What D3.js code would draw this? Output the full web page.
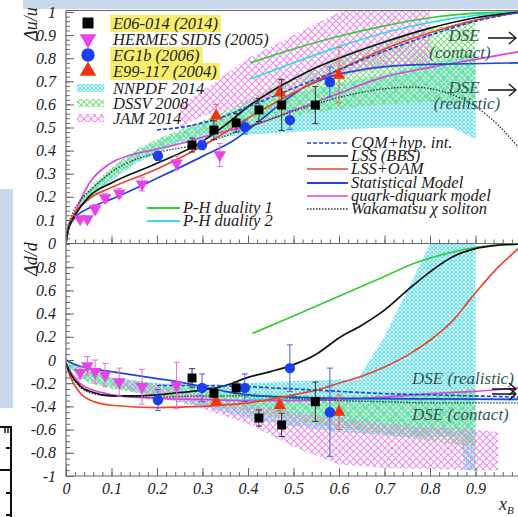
<!DOCTYPE html>
<html><head><meta charset="utf-8">
<script src="https://cdn.jsdelivr.net/npm/d3@7"></script>
<style>
body{margin:0;background:#fff;}
svg{display:block;}
text{font-family:"Liberation Serif","Times New Roman",serif;font-style:italic;fill:#222;}
</style>
</head><body>
<svg id="c" width="518" height="517"></svg>
<script>
// ---------- tick values / labels ----------
const xTickVals = [0,0.1,0.2,0.3,0.4,0.5,0.6,0.7,0.8,0.9];
const xTickLabels = ["0","0.1","0.2","0.3","0.4","0.5","0.6","0.7","0.8","0.9"];
const uTickVals = [0,0.1,0.2,0.3,0.4,0.5,0.6,0.7,0.8,0.9,1];
const uTickLabels = ["0","0.1","0.2","0.3","0.4","0.5","0.6","0.7","0.8","0.9","1"];
const dTickVals = [-1,-0.8,-0.6,-0.4,-0.2,0,0.2,0.4,0.6,0.8];
const dTickLabels = ["-1","-0.8","-0.6","-0.4","-0.2","0","0.2","0.4","0.6","0.8"];

// ---------- measurements ----------
const e06X = [0.277,0.325,0.374,0.424,0.474,0.548];
const e06U = [0.424,0.489,0.52,0.576,0.597,0.597];
const e06UErr = [0.03,0.04,0.04,0.05,0.11,0.08];
const e06D = [-0.155,-0.284,-0.24,-0.5,-0.56,-0.36];
const e06DErr = [0.08,0.04,0.05,0.07,0.1,0.17];

const hermesUX = [0.031,0.047,0.064,0.086,0.117,0.167,0.243,0.338];
const hermesU = [0.104,0.104,0.147,0.195,0.216,0.255,0.346,0.381];
const hermesUErr = [0.01,0.01,0.02,0.02,0.02,0.03,0.03,0.05];
const hermesDX = [0.031,0.047,0.064,0.086,0.117,0.167,0.243];
const hermesD = [-0.11,-0.05,-0.1,-0.13,-0.19,-0.23,-0.22];
const hermesDErr = [0.05,0.08,0.1,0.1,0.12,0.15,0.2];

const eg1bX = [0.202,0.299,0.393,0.492,0.58];
const eg1bU = [0.377,0.424,0.502,0.532,0.697];
const eg1bUErr = [0.02,0.02,0.03,0.04,0.065];
const eg1bD = [-0.345,-0.24,-0.24,-0.07,-0.45];
const eg1bDErr = [0.09,0.12,0.12,0.2,0.38];

const e99X = [0.33,0.47,0.6];
const e99U = [0.55,0.65,0.727];
const e99UErr = [0.05,0.06,0.12];
const e99D = [-0.36,-0.39,-0.45];
const e99DErr = [0.03,0.05,0.15];

// ---------- model curves, Δu/u ----------
const bbsUX = [0,0.005,0.02,0.05,0.1,0.2,0.3,0.35,0.4,0.45,0.5,0.55,0.6,0.7,0.8,0.9,1.0];
const bbsU  = [0,0.06,0.12,0.2,0.26,0.345,0.44,0.51,0.59,0.655,0.71,0.76,0.8,0.87,0.93,0.975,1.0];
const oamUX = [0,0.005,0.02,0.05,0.1,0.2,0.3,0.4,0.5,0.6,0.7,0.8,0.9,1.0];
const oamU  = [0,0.07,0.13,0.19,0.24,0.32,0.42,0.54,0.65,0.75,0.84,0.91,0.965,1.0];
const statUX = [0,0.005,0.02,0.05,0.1,0.2,0.3,0.37,0.42,0.47,0.52,0.58,0.65,0.75,0.85,1.0];
const statU  = [0,0.06,0.11,0.15,0.19,0.28,0.375,0.446,0.52,0.6,0.67,0.72,0.75,0.77,0.775,0.78];
const cqmUX = [0.2,0.25,0.3,0.35,0.4,0.5,0.6,0.7,0.8,0.9,1.0];
const cqmU  = [0.49,0.5,0.52,0.55,0.59,0.67,0.75,0.83,0.9,0.96,1.0];
const qdqUX = [0,0.005,0.012,0.024,0.04,0.059,0.08,0.112,0.15,0.185,0.257,0.332,0.411,0.5,0.6,0.69,0.8,0.9,1.0];
const qdqU  = [0,0.06,0.1,0.15,0.22,0.28,0.32,0.36,0.385,0.40,0.433,0.476,0.51,0.575,0.648,0.714,0.76,0.795,0.83];
const wakUX = [0,0.005,0.015,0.03,0.06,0.11,0.2,0.3,0.4,0.5,0.6,0.69,0.76,0.83,0.9,0.95,1.0];
const wakU  = [0,0.07,0.13,0.18,0.24,0.32,0.39,0.43,0.5,0.57,0.63,0.665,0.675,0.655,0.59,0.51,0.4];
const ph1UX = [0.405,0.5,0.6,0.7,0.8,0.9,1.0];
const ph1U  = [0.78,0.84,0.895,0.94,0.975,0.995,1.0];
const ph2UX = [0.405,0.5,0.6,0.7,0.8,0.9,1.0];
const ph2U  = [0.71,0.78,0.85,0.91,0.955,0.985,1.0];

// ---------- model curves, Δd/d ----------
const bbsDX = [0,0.01,0.03,0.06,0.1,0.15,0.2,0.25,0.3,0.35,0.4,0.45,0.5,0.55,0.6,0.65,0.7,0.75,0.8,0.85,0.9,0.95,1.0];
const bbsD  = [-0.03,-0.12,-0.22,-0.28,-0.31,-0.31,-0.3,-0.28,-0.26,-0.22,-0.15,-0.1,-0.04,0.05,0.19,0.3,0.43,0.6,0.76,0.89,0.96,0.99,1.0];
const oamDX = [0,0.01,0.03,0.05,0.1,0.2,0.3,0.4,0.5,0.55,0.6,0.65,0.7,0.75,0.8,0.85,0.9,0.95,1.0];
const oamD  = [-0.03,-0.15,-0.28,-0.34,-0.39,-0.41,-0.4,-0.37,-0.3,-0.26,-0.2,-0.14,-0.06,0.04,0.17,0.34,0.58,0.8,0.98];
const statDX = [0,0.02,0.05,0.1,0.15,0.2,0.25,0.3,0.35,0.4,0.5,0.6,0.8,1.0];
const statD  = [0,-0.04,-0.07,-0.1,-0.13,-0.16,-0.19,-0.23,-0.27,-0.3,-0.32,-0.33,-0.335,-0.34];
const cqmDX = [0.2,0.3,0.4,0.5,0.6,0.7,0.8,0.9,1.0];
const cqmD  = [-0.22,-0.22,-0.23,-0.25,-0.27,-0.29,-0.3,-0.31,-0.32];
const qdqDX = [0,0.01,0.03,0.06,0.1,0.15,0.2,0.3,0.4,0.5,0.6,0.7,0.8,0.9,1.0];
const qdqD  = [-0.03,-0.1,-0.2,-0.26,-0.3,-0.32,-0.33,-0.34,-0.35,-0.35,-0.34,-0.32,-0.29,-0.27,-0.24];
const wakDX = [0,0.01,0.03,0.06,0.1,0.2,0.3,0.4,0.5,0.6,0.7,0.8,0.9,1.0];
const wakD  = [-0.02,-0.12,-0.23,-0.29,-0.31,-0.32,-0.31,-0.31,-0.33,-0.35,-0.36,-0.37,-0.37,-0.37];
const ph1DX = [0.41,0.5,0.6,0.7,0.77,0.85,0.9,0.95,1.0];
const ph1D  = [0.23,0.38,0.55,0.72,0.84,0.93,0.97,0.99,1.0];
const ph2DX = [0.4,0.6,0.8,1.0];
const ph2D  = [-0.34,-0.34,-0.34,-0.34];

// ---------- global fits (uncertainty bands) ----------
const nnUX = [0.03,0.05,0.1,0.15,0.2,0.25,0.3,0.35,0.4,0.5,0.6,0.7,0.8,0.85,0.9];
const nnULo = [0.15,0.18,0.27,0.34,0.39,0.43,0.45,0.46,0.47,0.48,0.49,0.5,0.5,0.5,0.45];
const nnUHi = [0.19,0.23,0.32,0.39,0.44,0.48,0.52,0.56,0.6,0.65,0.69,0.73,0.78,0.8,0.82];
const dsUX = [0.03,0.05,0.1,0.15,0.2,0.25,0.3,0.4,0.5,0.6,0.7,0.8,0.9];
const dsULo = [0.15,0.19,0.28,0.35,0.4,0.44,0.47,0.51,0.55,0.58,0.6,0.61,0.6];
const dsUHi = [0.19,0.24,0.33,0.4,0.45,0.49,0.53,0.62,0.72,0.81,0.88,0.93,0.96];
const jmUX = [0.25,0.3,0.4,0.5,0.6,0.7,0.8];
const jmULo = [0.5,0.55,0.6,0.66,0.72,0.76,0.78];
const jmUHi = [0.6,0.66,0.8,0.9,1.0,1.05,1.05];

const nnDX = [0,0.05,0.1,0.2,0.3,0.4,0.5,0.6,0.64,0.7,0.75,0.8,0.87,0.875,0.9];
const nnDLo = [-0.06,-0.18,-0.24,-0.32,-0.4,-0.5,-0.57,-0.62,-0.63,-0.65,-0.66,-0.66,-0.66,-0.95,-0.95];
const nnDHi = [-0.02,-0.1,-0.15,-0.2,-0.22,-0.2,-0.18,-0.17,-0.17,0.2,0.6,1.0,1.0,1.0,1.0];
const dsDX = [0,0.05,0.1,0.2,0.3,0.4,0.5,0.6,0.7,0.8,0.9];
const dsDLo = [-0.05,-0.2,-0.25,-0.3,-0.38,-0.45,-0.52,-0.58,-0.64,-0.7,-0.75];
const dsDHi = [-0.02,-0.1,-0.15,-0.2,-0.25,-0.28,-0.3,-0.31,-0.3,-0.28,-0.25];
const jmDX = [0.1,0.2,0.3,0.4,0.5,0.6,0.7,0.8,0.9,0.95];
const jmDLo = [-0.22,-0.32,-0.42,-0.55,-0.75,-0.9,-0.93,-0.94,-0.95,-0.95];
const jmDHi = [-0.15,-0.22,-0.3,-0.38,-0.45,-0.5,-0.55,-0.58,-0.6,-0.62];

// ---------- legend entries ----------
const dataLegend = ["E06-014 (2014)","HERMES SIDIS (2005)","EG1b (2006)","E99-117 (2004)"];
const bandLegend = ["NNPDF 2014","DSSV 2008","JAM 2014"];
const modelLegend = ["CQM+hyp. int.","LSS (BBS)","LSS+OAM","Statistical Model","quark-diquark model","Wakamatsu \u03c7 soliton"];
const dualityLegend = ["P-H duality 1","P-H duality 2"];

// ---------- styles ----------
const C = {green:"#33cc33", cyan:"#33dde6", black:"#111", red:"#e8472a", blue:"#2246dd", magenta:"#dd44dd", dotted:"#333"};
const frameColor = "#666";

// ---------- scales ----------
const x = d3.scaleLinear().domain([0,1]).range([66,521]);
const yU = d3.scaleLinear().domain([0,1]).range([243,12]);
const yD = d3.scaleLinear().domain([-1,1]).range([476,244]);

const svg = d3.select("#c");
const defs = svg.append("defs");

// page decoration strips
svg.append("rect").attr("x",23).attr("y",0).attr("width",495).attr("height",9).attr("fill","#c7d8ec");
svg.append("rect").attr("x",0).attr("y",189).attr("width",13).attr("height",219).attr("fill","#c7d8ec");
const ruler = svg.append("g").attr("stroke","#111").attr("stroke-width",2).attr("fill","none");
ruler.append("path").attr("d","M0,427H11V517");
[448,470,493,515].forEach(t=>ruler.append("line").attr("x1",t===470?0:6).attr("x2",11).attr("y1",t).attr("y2",t));
[5,8].forEach(t=>ruler.append("line").attr("x1",t).attr("x2",t).attr("y1",427).attr("y2",433).attr("stroke-width",1.5));

// hatch patterns
function hatch(id, size, color){
  const p = defs.append("pattern").attr("id",id).attr("width",size).attr("height",size)
    .attr("patternUnits","userSpaceOnUse");
  p.append("path").attr("d",`M0,0L${size},${size}M${size},0L0,${size}`)
    .attr("stroke",color).attr("stroke-width",1.1).attr("fill","none");
}
hatch("hNN",4,"#55dfea");
hatch("hDS",6,"#77e077");
hatch("hJM",7,"#ee88ee");

defs.append("clipPath").attr("id","clipU").append("rect").attr("x",66).attr("y",11).attr("width",452).attr("height",232);
defs.append("clipPath").attr("id","clipD").append("rect").attr("x",66).attr("y",244).attr("width",452).attr("height",232);

const zip = (xs, ys) => xs.map((v,i)=>[v, ys[i]]);
const zip3 = (xs, lo, hi) => xs.map((v,i)=>[v, lo[i], hi[i]]);

function panel(clipId, y, bands, curves){
  const g = svg.append("g").attr("clip-path",`url(#${clipId})`);
  const area = d3.area().x(d=>x(d[0])).y0(d=>y(d[1])).y1(d=>y(d[2]));
  bands.forEach(b=>g.append("path").datum(b.data).attr("d",area).attr("fill",`url(#${b.pat})`));
  const line = d3.line().x(d=>x(d[0])).y(d=>y(d[1])).curve(d3.curveMonotoneX);
  curves.forEach(c=>g.append("path").datum(c.data).attr("d",line).attr("fill","none")
    .attr("stroke",c.color).attr("stroke-width",c.w||1.7).attr("stroke-dasharray",c.dash||null));
  return g;
}

panel("clipU", yU, [
  {data:zip3(nnUX,nnULo,nnUHi), pat:"hNN"},
  {data:zip3(dsUX,dsULo,dsUHi), pat:"hDS"},
  {data:zip3(jmUX,jmULo,jmUHi), pat:"hJM"}
],[
  {data:zip(ph1UX,ph1U), color:C.green},
  {data:zip(ph2UX,ph2U), color:C.cyan},
  {data:zip(qdqUX,qdqU), color:C.magenta},
  {data:zip(statUX,statU), color:C.blue},
  {data:zip(wakUX,wakU), color:C.dotted, dash:"1.5,1.5", w:1.3},
  {data:zip(oamUX,oamU), color:C.red},
  {data:zip(bbsUX,bbsU), color:C.black},
  {data:zip(cqmUX,cqmU), color:C.blue, dash:"4,2"}
]);

panel("clipD", yD, [
  {data:zip3(nnDX,nnDLo,nnDHi), pat:"hNN"},
  {data:zip3(dsDX,dsDLo,dsDHi), pat:"hDS"},
  {data:zip3(jmDX,jmDLo,jmDHi), pat:"hJM"}
],[
  {data:zip(ph1DX,ph1D), color:C.green},
  {data:zip(ph2DX,ph2D), color:C.cyan},
  {data:zip(qdqDX,qdqD), color:C.magenta},
  {data:zip(wakDX,wakD), color:C.dotted, dash:"1.5,1.5", w:1.3},
  {data:zip(statDX,statD), color:C.blue},
  {data:zip(oamDX,oamD), color:C.red},
  {data:zip(bbsDX,bbsD), color:C.black},
  {data:zip(cqmDX,cqmD), color:C.blue, dash:"4,2"}
]);

// ---------- markers ----------
const sym = {
  square: d3.symbol().type(d3.symbolSquare).size(80),
  circle: d3.symbol().type(d3.symbolCircle).size(85),
  tri: d3.symbol().type(d3.symbolTriangle).size(70)
};
function points(y, xs, vs, errs, shape, color, errColor, flip){
  const g = svg.append("g");
  xs.forEach((xv,i)=>{
    const px = x(xv), py = y(vs[i]), e1 = y(vs[i]+errs[i]), e2 = y(vs[i]-errs[i]);
    g.append("line").attr("x1",px).attr("x2",px).attr("y1",e1).attr("y2",e2).attr("stroke",errColor).attr("stroke-width",1);
    [e1,e2].forEach(ey=>g.append("line").attr("x1",px-3).attr("x2",px+3).attr("y1",ey).attr("y2",ey).attr("stroke",errColor).attr("stroke-width",1));
    g.append("path").attr("d",sym[shape]()).attr("fill",color)
      .attr("transform",`translate(${px},${py})${flip?" rotate(180)":""}`);
  });
}
points(yU, hermesUX, hermesU, hermesUErr, "tri", "#e644e6", "#e070e0", true);
points(yU, e99X, e99U, e99UErr, "tri", "#ee3311", "#e06a50", false);
points(yU, eg1bX, eg1bU, eg1bUErr, "circle", "#1a3ff0", "#4460e0", false);
points(yU, e06X, e06U, e06UErr, "square", "#000", "#333", false);

points(yD, hermesDX, hermesD, hermesDErr, "tri", "#e644e6", "#e070e0", true);
points(yD, e99X, e99D, e99DErr, "tri", "#ee3311", "#e06a50", false);
points(yD, eg1bX, eg1bD, eg1bDErr, "circle", "#1a3ff0", "#4460e0", false);
points(yD, e06X, e06D, e06DErr, "square", "#000", "#333", false);

// ---------- axes ----------
const fmt = (vals, labels) => d => labels[vals.findIndex(v=>Math.abs(v-d)<1e-9)] ?? "";
function styleAxis(g){
  g.select(".domain").remove();
  g.selectAll("line").attr("stroke",frameColor);
  g.selectAll("text").attr("font-family","Liberation Serif, serif").attr("font-style","italic")
    .attr("font-size",16).attr("fill","#333");
}
const minorU = d3.range(0,1.0001,0.02);
const minorD = d3.range(-1,1.0001,0.05);
const minorX = d3.range(0,1.0001,0.02);

svg.append("g").attr("transform","translate(66,0)")
  .call(d3.axisLeft(yU).tickValues(minorU).tickFormat("").tickSizeInner(-4).tickSizeOuter(0)).call(styleAxis);
svg.append("g").attr("transform","translate(66,0)")
  .call(d3.axisLeft(yU).tickValues(uTickVals).tickFormat(fmt(uTickVals,uTickLabels)).tickSizeInner(-8).tickSizeOuter(0).tickPadding(10)).call(styleAxis);
svg.append("g").attr("transform","translate(66,0)")
  .call(d3.axisLeft(yD).tickValues(minorD).tickFormat("").tickSizeInner(-4).tickSizeOuter(0)).call(styleAxis);
svg.append("g").attr("transform","translate(66,0)")
  .call(d3.axisLeft(yD).tickValues(dTickVals).tickFormat(fmt(dTickVals,dTickLabels)).tickSizeInner(-8).tickSizeOuter(0).tickPadding(10)).call(styleAxis);

svg.append("g").attr("transform","translate(0,476)")
  .call(d3.axisBottom(x).tickValues(minorX).tickFormat("").tickSizeInner(-4).tickSizeOuter(0)).call(styleAxis);
svg.append("g").attr("transform","translate(0,476)")
  .call(d3.axisBottom(x).tickValues(xTickVals).tickFormat(fmt(xTickVals,xTickLabels)).tickSizeInner(-8).tickSizeOuter(0).tickPadding(7)).call(styleAxis);
svg.append("g").attr("transform","translate(0,243.5)")
  .call(d3.axisBottom(x).tickValues(minorX).tickFormat("").tickSizeInner(-4).tickSizeOuter(0)).call(styleAxis);
svg.append("g").attr("transform","translate(0,243.5)")
  .call(d3.axisBottom(x).tickValues(xTickVals).tickFormat("").tickSizeInner(-8).tickSizeOuter(0)).call(styleAxis);

// frame
const frame = svg.append("g").attr("stroke",frameColor).attr("stroke-width",1.2);
frame.append("line").attr("x1",66).attr("x2",66).attr("y1",10.5).attr("y2",476);
frame.append("line").attr("x1",66).attr("x2",518).attr("y1",476).attr("y2",476);
frame.append("line").attr("x1",66).attr("x2",518).attr("y1",243.5).attr("y2",243.5);
frame.append("line").attr("x1",66).attr("x2",518).attr("y1",10.5).attr("y2",10.5);

// axis titles
svg.append("text").attr("transform","translate(37,24) rotate(-90)").attr("text-anchor","middle")
  .attr("font-size",18).text("\u0394u/u");
svg.append("text").attr("transform","translate(37,259) rotate(-90)").attr("text-anchor","middle")
  .attr("font-size",18).text("\u0394d/d");
const xl = svg.append("text").attr("x",499).attr("y",510).attr("font-size",18);
xl.append("tspan").text("x");
xl.append("tspan").attr("font-size",11).attr("dy",4).text("B");

// ---------- legends ----------
const legY = [23,39,55,71];
const highlighted = [true,false,true,true];
const legShapes = [["square","#000",false],["tri","#e644e6",true],["circle","#1a3ff0",false],["tri","#ee3311",false]];
const hlLayer = svg.append("g");
dataLegend.forEach((t,i)=>{
  const s = legShapes[i];
  svg.append("path").attr("d",d3.symbol().type(s[0]==="square"?d3.symbolSquare:s[0]==="circle"?d3.symbolCircle:d3.symbolTriangle).size(s[0]==="circle"?140:120)())
    .attr("fill",s[1]).attr("transform",`translate(88,${legY[i]})${s[2]?" rotate(180)":""}`);
  const tx = svg.append("text").attr("x",113).attr("y",legY[i]+6).attr("font-size",16.5).text(t);
  if(highlighted[i]){
    const w = tx.node().getComputedTextLength();
    hlLayer.append("rect").attr("x",110).attr("y",legY[i]-8).attr("width",w+6).attr("height",17).attr("fill","#f8ee6c");
  }
});
const bandY = [88,103,118];
const bandPats = ["hNN","hDS","hJM"];
bandLegend.forEach((t,i)=>{
  svg.append("rect").attr("x",77).attr("y",bandY[i]-4).attr("width",27).attr("height",8).attr("fill",`url(#${bandPats[i]})`);
  svg.append("text").attr("x",113).attr("y",bandY[i]+6).attr("font-size",16.5).text(t);
});

const modelY = [143,156,169,183,196,209];
const modelSty = [[C.blue,"4,2",1.6],[C.black,null,1.6],[C.red,null,1.6],[C.blue,null,2],[C.magenta,null,1.6],[C.dotted,"1.5,1.5",1.5]];
modelLegend.forEach((t,i)=>{
  svg.append("line").attr("x1",307).attr("x2",348).attr("y1",modelY[i]).attr("y2",modelY[i])
    .attr("stroke",modelSty[i][0]).attr("stroke-dasharray",modelSty[i][1]).attr("stroke-width",modelSty[i][2]);
  svg.append("text").attr("x",351).attr("y",modelY[i]+5).attr("font-size",16.5).text(t);
});
const dualY = [208,221];
const dualCol = [C.green, C.cyan];
dualityLegend.forEach((t,i)=>{
  svg.append("line").attr("x1",147).attr("x2",180).attr("y1",dualY[i]).attr("y2",dualY[i])
    .attr("stroke",dualCol[i]).attr("stroke-width",1.8);
  svg.append("text").attr("x",183).attr("y",dualY[i]+5).attr("font-size",16.5).text(t);
});

// ---------- DSE annotations ----------
const dseColor = "#2f5656";
function arrow(x1, x2, y){
  svg.append("line").attr("x1",x1).attr("x2",x2).attr("y1",y).attr("y2",y).attr("stroke","#111").attr("stroke-width",1.5);
  svg.append("path").attr("d",`M${x2-7},${y-6}L${x2},${y}L${x2-7},${y+6}`).attr("fill","none").attr("stroke","#111").attr("stroke-width",1.3);
}
[["DSE",464,41],["(contact)",460,58],["DSE",464,93],["(realistic)",467,109]].forEach(d=>
  svg.append("text").attr("x",d[1]).attr("y",d[2]).attr("text-anchor","middle").attr("font-size",17).style("fill",dseColor).text(d[0]));
arrow(488,516,38);
arrow(488,516,90);
svg.append("text").attr("x",412).attr("y",384).attr("font-size",17).style("fill",dseColor).text("DSE (realistic)");
svg.append("text").attr("x",412).attr("y",420).attr("font-size",17).style("fill",dseColor).text("DSE (contact)");
arrow(492,516,389);
arrow(492,516,394);
</script>
</body></html>
